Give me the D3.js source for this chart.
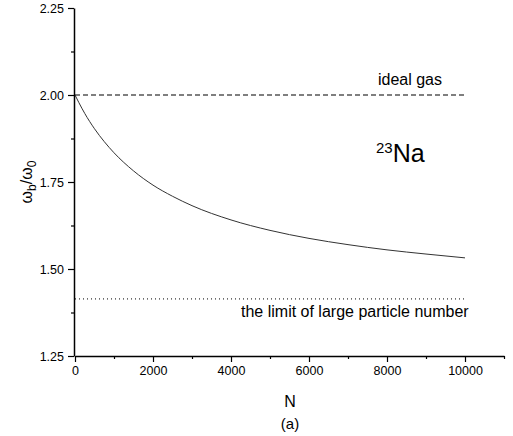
<!DOCTYPE html>
<html>
<head>
<meta charset="utf-8">
<script src="https://cdn.jsdelivr.net/npm/d3@7"></script>
<style>
  body { margin: 0; background: #fff; }
  text { font-family: "Liberation Sans", Arial, sans-serif; fill: #000; }
</style>
</head>
<body>
<div id="chart"></div>
<script>
// values
var nValues = [0, 100, 250, 500, 750, 1000, 1500, 2000, 2500, 3000, 4000, 5000, 6000, 7000, 8000, 9000, 10000];
var ratio = [2.000, 1.978, 1.947, 1.903, 1.866, 1.834, 1.782, 1.741, 1.709, 1.682, 1.641, 1.611, 1.588, 1.570, 1.555, 1.543, 1.532];
var idealGas = 2.0;
var largeLimit = 1.414;
var xTicks = [0, 2000, 4000, 6000, 8000, 10000];
var xMinor = [1000, 3000, 5000, 7000, 9000, 11000];
var yTicks = [1.25, 1.50, 1.75, 2.00, 2.25];
var yMinor = [1.375, 1.625, 1.875, 2.125];

var margin = {top: 8, right: 9, bottom: 80, left: 74},
    width = 513 - margin.left - margin.right,
    height = 436 - margin.top - margin.bottom;

var svg = d3.select("#chart")
  .append("svg")
  .attr("width", 513)
  .attr("height", 436)
  .append("g")
  .attr("transform", "translate(" + margin.left + "," + margin.top + ")");

var x = d3.scaleLinear().domain([0, 11000]).range([1, width]);
var y = d3.scaleLinear().domain([1.25, 2.25]).range([height, 0]);

// reference lines
svg.append("line")
  .attr("x1", x(0)).attr("x2", x(10000))
  .attr("y1", y(idealGas)).attr("y2", y(idealGas))
  .attr("stroke", "#000").attr("stroke-width", 1.2)
  .attr("stroke-dasharray", "5,3");

svg.append("line")
  .attr("x1", x(0)).attr("x2", x(10000))
  .attr("y1", y(largeLimit)).attr("y2", y(largeLimit))
  .attr("stroke", "#000").attr("stroke-width", 1)
  .attr("stroke-dasharray", "1,3");

// curve
var line = d3.line()
  .x(function(d, i) { return x(nValues[i]); })
  .y(function(d) { return y(d); })
  .curve(d3.curveMonotoneX);

svg.append("path")
  .datum(ratio)
  .attr("d", line)
  .attr("fill", "none")
  .attr("stroke", "#333")
  .attr("stroke-width", 1);

// axes
svg.append("g")
  .attr("transform", "translate(0," + height + ")")
  .call(d3.axisBottom(x).tickValues(xTicks).tickFormat(d3.format("d")).tickSize(6).tickSizeOuter(0).tickPadding(4));
svg.append("g")
  .attr("transform", "translate(0," + height + ")")
  .call(d3.axisBottom(x).tickValues(xMinor).tickSize(3).tickSizeOuter(0).tickFormat(""))
  .select(".domain").remove();

svg.append("g")
  .call(d3.axisLeft(y).tickValues(yTicks).tickFormat(d3.format(".2f")).tickSize(6).tickSizeOuter(0).tickPadding(4));
svg.append("g")
  .call(d3.axisLeft(y).tickValues(yMinor).tickSize(3).tickSizeOuter(0).tickFormat(""))
  .select(".domain").remove();

svg.selectAll(".domain").attr("stroke-width", 1.5);
svg.selectAll(".tick line").attr("stroke-width", 1.2);
svg.selectAll(".tick text")
  .style("font-family", "'Liberation Sans', Arial, sans-serif")
  .style("font-size", "12.5px");

// annotations
svg.append("text")
  .attr("x", x(10000) - 23).attr("y", y(idealGas) - 10)
  .attr("text-anchor", "end")
  .style("font-size", "16px")
  .text("ideal gas");

var na = svg.append("text")
  .attr("x", 302).attr("y", 154)
  .style("font-size", "25px");
na.append("tspan").attr("dy", "-9").style("font-size", "15px").text("23");
na.append("tspan").attr("dy", "9").text("Na");

svg.append("text")
  .attr("x", 167).attr("y", 309)
  .style("font-size", "16px")
  .text("the limit of large particle number");

svg.append("text")
  .attr("x", width / 2 + 1).attr("y", height + 51)
  .attr("text-anchor", "middle")
  .style("font-size", "16px")
  .text("N");

svg.append("text")
  .attr("x", width / 2 + 1).attr("y", height + 73)
  .attr("text-anchor", "middle")
  .style("font-size", "15px")
  .text("(a)");

var yl = svg.append("text")
  .attr("transform", "translate(-42," + y(1.75) + ") rotate(-90)")
  .attr("text-anchor", "middle")
  .style("font-size", "16px");
yl.append("tspan").text("\u03c9");
yl.append("tspan").attr("dy", 4).style("font-size", "12px").text("b");
yl.append("tspan").attr("dy", -4).text("/\u03c9");
yl.append("tspan").attr("dy", 4).style("font-size", "12px").text("0");
</script>
</body>
</html>
